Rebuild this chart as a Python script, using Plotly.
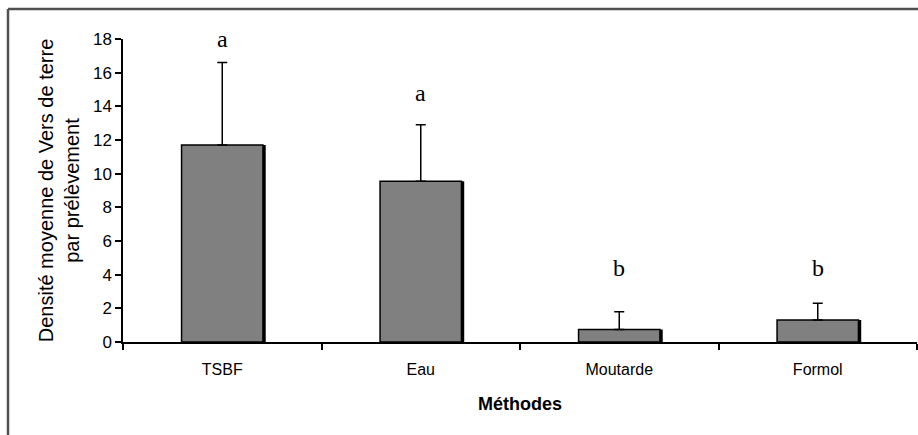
import plotly.graph_objects as go

methods = ["TSBF", "Eau", "Moutarde", "Formol"]
means = [11.7, 9.55, 0.75, 1.3]
errors = [4.9, 3.35, 1.05, 1.0]
letters = ["a", "a", "b", "b"]
letter_y = [18.0, 14.8, 4.4, 4.4]

bar_w = 0.41
shadow_shift = 0.014

fig = go.Figure()
# shadow (drawn first, shifted right)
fig.add_trace(go.Bar(
    x=methods, y=means, width=bar_w, offset=-bar_w / 2 + shadow_shift,
    marker=dict(color="black", line=dict(color="black", width=0)),
    hoverinfo="skip", showlegend=False,
))
fig.add_trace(go.Bar(
    x=methods, y=means, width=bar_w, offset=-bar_w / 2,
    marker=dict(color="#808080", line=dict(color="black", width=1.5)),
    error_y=dict(type="data", symmetric=False, array=errors,
                 arrayminus=[0] * len(errors), color="black",
                 thickness=1.5, width=5),
    showlegend=False,
))

# significance letters
for m, l, ly in zip(methods, letters, letter_y):
    fig.add_annotation(x=m, y=ly, xref="x", yref="y", text=l, showarrow=False,
                       font=dict(family="Liberation Serif", size=24, color="black"))

fig.update_layout(
    width=918, height=435,
    margin=dict(l=123, r=1, t=39, b=93),
    paper_bgcolor="white", plot_bgcolor="white",
    barmode="overlay",
    font=dict(family="Liberation Sans", color="black"),
    xaxis=dict(
        type="category", range=[-0.5, 3.5], tickson="boundaries",
        ticks="outside", ticklen=6, tickwidth=1.5, tickcolor="black",
        showline=True, linecolor="black", linewidth=1.5,
        showgrid=False, zeroline=False,
        tickfont=dict(size=16), ticklabelstandoff=12,
        title=dict(text="<b>Méthodes</b>", font=dict(size=18), standoff=20),
    ),
    yaxis=dict(
        range=[0, 18], dtick=2,
        ticks="outside", ticklen=6, tickwidth=1.5, tickcolor="black",
        showline=True, linecolor="black", linewidth=1.5,
        showgrid=False, zeroline=False,
        tickfont=dict(size=17),
        title=dict(text="Densité moyenne de Vers de terre<br>par prélèvement",
                   font=dict(size=20), standoff=8),
    ),
)

# outer frame (cropped picture: only top and left edges visible)
fig.add_shape(type="line", xref="paper", yref="paper",
              x0=(8 - 123) / 794, x1=1.01, y0=(342 - 9) / 303, y1=(342 - 9) / 303,
              line=dict(color="#505050", width=2.5))
fig.add_shape(type="line", xref="paper", yref="paper",
              x0=(8 - 123) / 794, x1=(8 - 123) / 794, y0=(342 - 9) / 303, y1=-0.35,
              line=dict(color="#505050", width=2.5))

fig.write_html("out.html")
